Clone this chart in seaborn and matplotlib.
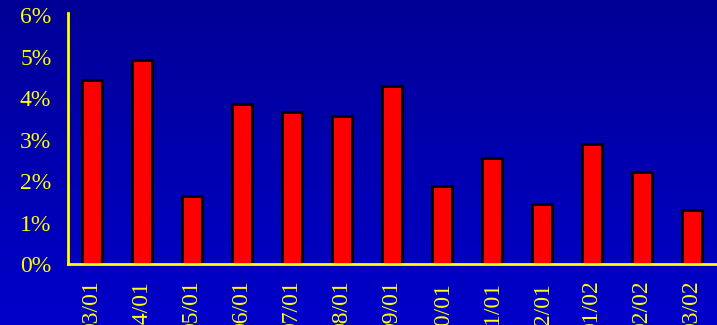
import numpy as np
import pandas as pd
import matplotlib
matplotlib.use("Agg")
import matplotlib.pyplot as plt
import seaborn as sns

# Monthly share, in percent
months = ["03/01", "04/01", "05/01", "06/01", "07/01", "08/01", "09/01",
          "10/01", "11/01", "12/01", "01/02", "02/02", "03/02"]
share = [4.43, 4.92, 1.64, 3.86, 3.66, 3.57, 4.29,
         1.88, 2.55, 1.45, 2.89, 2.22, 1.30]
y_ticks = [0, 1, 2, 3, 4, 5, 6]
y_tick_labels = ["0%", "1%", "2%", "3%", "4%", "5%", "6%"]

df = pd.DataFrame({"month": months, "share": share})

sns.set_style("white")
plt.rcParams["font.family"] = ["Liberation Serif", "DejaVu Serif"]

W, H, DPI = 717, 325, 100
fig = plt.figure(figsize=(W / DPI, H / DPI), dpi=DPI)

# vertical blue gradient backdrop
bg = fig.add_axes([0, 0, 1, 1], zorder=-10)
grad = np.linspace(0, 1, 256).reshape(-1, 1)
top = np.array([0, 0, 150]) / 255
bottom = np.array([0, 0, 202]) / 255
img = top + (bottom - top) * grad[..., None]
bg.imshow(img, aspect="auto", extent=[0, 1, 0, 1], origin="upper")
bg.axis("off")

ax = fig.add_axes([68 / W, (H - 264) / H, (W - 68) / W, (264 - 13) / H])
ax.set_facecolor("none")

sns.barplot(data=df, x="month", y="share", color="#FF0000", saturation=1,
            edgecolor="black", linewidth=2, width=0.4, ax=ax)

ax.set_xlim(-0.48, 12.5)
ax.set_ylim(0, 6.05)
ax.set_yticks(y_ticks)
ax.set_yticklabels(y_tick_labels)
ax.set_xlabel("")
ax.set_ylabel("")

for side in ["top", "right"]:
    ax.spines[side].set_visible(False)
for side in ["left", "bottom"]:
    ax.spines[side].set_color("#FFFF00")
    ax.spines[side].set_linewidth(2)

ax.tick_params(axis="y", length=0, pad=12, labelsize=17, labelcolor="#FFFF00")
ax.tick_params(axis="x", length=0, pad=12, labelsize=17, labelcolor="#FFFF00",
               labelrotation=90)
for lbl in ax.get_xticklabels():
    lbl.set_verticalalignment("top")

fig.savefig("out.png", dpi=DPI)
